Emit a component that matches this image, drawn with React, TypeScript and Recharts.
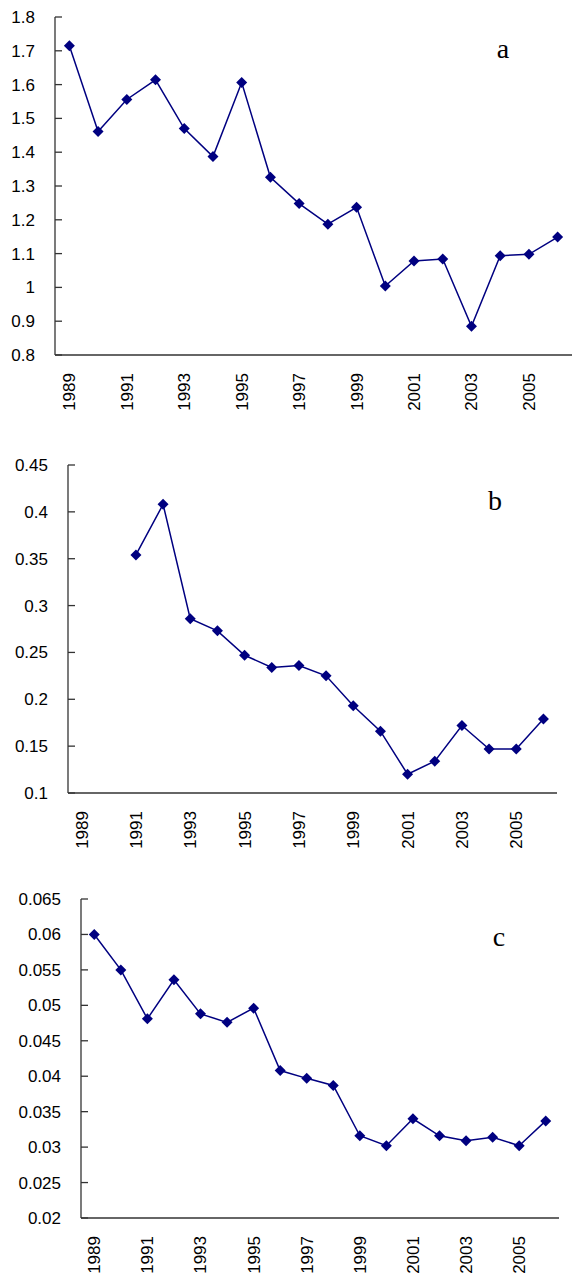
import { LineChart, Line, XAxis, YAxis } from 'recharts'

const years = [1989, 1990, 1991, 1992, 1993, 1994, 1995, 1996, 1997, 1998, 1999, 2000, 2001, 2002, 2003, 2004, 2005, 2006]
const yearLabels = [1989, 1991, 1993, 1995, 1997, 1999, 2001, 2003, 2005]
const bandEdges = [1988.5, 1989.5, 1990.5, 1991.5, 1992.5, 1993.5, 1994.5, 1995.5, 1996.5, 1997.5, 1998.5, 1999.5, 2000.5, 2001.5, 2002.5, 2003.5, 2004.5, 2005.5, 2006.5]

const valuesA = [1.715, 1.461, 1.556, 1.614, 1.47, 1.387, 1.606, 1.326, 1.248, 1.187, 1.237, 1.004, 1.078, 1.084, 0.885, 1.094, 1.098, 1.149]
const valuesB = [null, null, 0.354, 0.408, 0.286, 0.273, 0.247, 0.234, 0.236, 0.225, 0.193, 0.166, 0.12, 0.134, 0.172, 0.147, 0.147, 0.179]
const valuesC = [0.06, 0.055, 0.0481, 0.0536, 0.0488, 0.0476, 0.0496, 0.0408, 0.0397, 0.0387, 0.0316, 0.0302, 0.034, 0.0316, 0.0309, 0.0314, 0.0302, 0.0337]

const ticksA = [0.8, 0.9, 1, 1.1, 1.2, 1.3, 1.4, 1.5, 1.6, 1.7, 1.8]
const ticksB = [0.1, 0.15, 0.2, 0.25, 0.3, 0.35, 0.4, 0.45]
const ticksC = [0.02, 0.025, 0.03, 0.035, 0.04, 0.045, 0.05, 0.055, 0.06, 0.065]

const NAVY = '#000080'
const AXIS = '#333'
const tickFont = { fontSize: 17, fill: '#000', fontFamily: '"Liberation Sans", Arial, sans-serif' }

const Diamond = (props: any) => {
  const { cx, cy, index } = props
  if (cx == null || cy == null || isNaN(cy)) return <g key={index} />
  const r = 5.5
  return (
    <path
      key={index}
      d={`M${cx} ${cy - r} L${cx + r} ${cy} L${cx} ${cy + r} L${cx - r} ${cy} Z`}
      fill={NAVY}
    />
  )
}

const YearTick = (props: any) => {
  const { x, y, payload } = props
  return (
    <text
      x={x}
      y={y}
      transform={`rotate(-90 ${x} ${y})`}
      textAnchor="end"
      dy="0.35em"
      {...tickFont}
    >
      {payload.value}
    </text>
  )
}

interface PanelProps {
  values: (number | null)[]
  ticks: number[]
  top: number
  height: number
  margin: { top: number; right: number; bottom: number; left: number }
  axisWidth: number
}

function Panel({ values, ticks, top, height, margin, axisWidth }: PanelProps) {
  const data = years.map((year, i) => ({ year, v: values[i] }))
  return (
    <div style={{ position: 'absolute', left: 0, top }}>
      <LineChart width={574} height={height} data={data} margin={margin}>
        <XAxis
          xAxisId="edges"
          dataKey="year"
          type="number"
          domain={[1988.5, 2006.5]}
          allowDataOverflow
          ticks={bandEdges}
          interval={0}
          tick={false}
          tickSize={-7}
          height={1}
          axisLine={{ stroke: AXIS, strokeWidth: 1.3 }}
          tickLine={{ stroke: AXIS, strokeWidth: 1.3 }}
        />
        <XAxis
          xAxisId="years"
          dataKey="year"
          type="number"
          domain={[1988.5, 2006.5]}
          allowDataOverflow
          ticks={yearLabels}
          interval={0}
          tick={<YearTick />}
          tickSize={0}
          tickMargin={17}
          height={1}
          axisLine={false}
          tickLine={false}
        />
        <YAxis
          type="number"
          domain={[ticks[0], ticks[ticks.length - 1]]}
          ticks={ticks}
          interval={0}
          width={axisWidth}
          tickSize={-7}
          tickMargin={27}
          tick={tickFont}
          tickFormatter={(v: number) => String(v)}
          axisLine={{ stroke: AXIS, strokeWidth: 1.3 }}
          tickLine={{ stroke: AXIS, strokeWidth: 1.3 }}
        />
        <Line
          xAxisId="years"
          dataKey="v"
          stroke={NAVY}
          strokeWidth={1.5}
          dot={Diamond}
          activeDot={false}
          isAnimationActive={false}
        />
      </LineChart>
    </div>
  )
}

export default function App() {
  const labelStyle = { fontSize: 28, fontFamily: '"Liberation Serif", "Times New Roman", serif', fill: '#000' }
  return (
    <div style={{ position: 'absolute', left: 0, top: 0, width: 574, height: 1274, background: '#fff' }}>
      <Panel values={valuesA} ticks={ticksA} top={0} height={420} axisWidth={55}
        margin={{ top: 17, right: 2, bottom: 63, left: 0 }} />
      <Panel values={valuesB} ticks={ticksB} top={440} height={420} axisWidth={68}
        margin={{ top: 25, right: 17, bottom: 65, left: 0 }} />
      <Panel values={valuesC} ticks={ticksC} top={860} height={414} axisWidth={81}
        margin={{ top: 39, right: 15, bottom: 54, left: 0 }} />
      <svg width={574} height={1274} style={{ position: 'absolute', left: 0, top: 0, pointerEvents: 'none' }}>
        <text x={503} y={58} textAnchor="middle" {...labelStyle}>a</text>
        <text x={495} y={510} textAnchor="middle" {...labelStyle}>b</text>
        <text x={499} y={946} textAnchor="middle" {...labelStyle}>c</text>
      </svg>
    </div>
  )
}
